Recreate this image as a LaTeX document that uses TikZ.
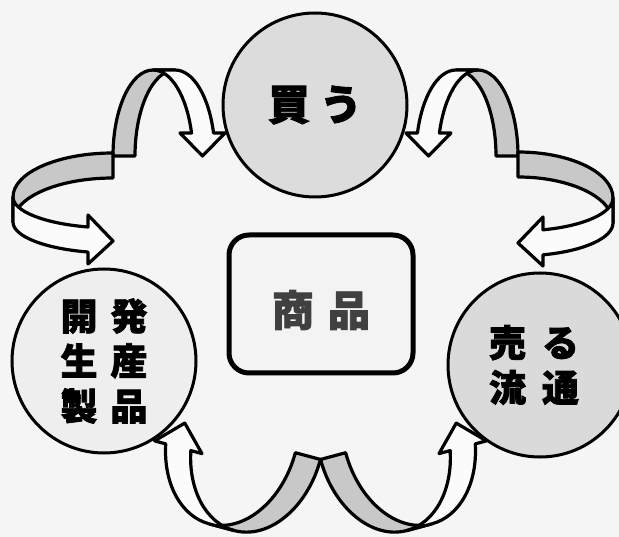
\documentclass[tikz,border=0pt]{standalone}
\usepackage{fontspec}
\newfontfamily\jp{Noto Sans CJK JP}[BoldFeatures={FakeBold=2}]
\definecolor{bgc}{HTML}{F5F5F5}
\definecolor{bandgray}{HTML}{C8C8C8}
\definecolor{bandwhite}{HTML}{FBFBFB}
\definecolor{topfill}{HTML}{DCDCDC}
\definecolor{leftfill}{HTML}{EEEEEE}
\definecolor{rightfill}{HTML}{DADADA}
\definecolor{boxfill}{HTML}{F3F3F3}
\definecolor{boxtext}{HTML}{404040}
\begin{document}
\begin{tikzpicture}[x=1pt,y=1pt,yscale=-1,
  band/.style={draw=black, line width=3.2pt, line join=round},
  backband/.style={band, fill=bandgray},
  frontband/.style={band, fill=bandwhite},
  circ/.style={circle, draw=black, line width=3pt, inner sep=0pt, minimum size=184pt, align=center},
  goodsbox/.style={draw=black, line width=5pt, rounded corners=20pt, fill=boxfill, minimum width=184pt, minimum height=138pt, text=boxtext}]
\useasboundingbox (0,0) rectangle (619,537);
\clip (0,0) rectangle (619,537);
\fill[bgc] (0,0) rectangle (619,537);

% top-left arch (curved down arrow)
\begin{scope}[shift={(153,156)}]
  \draw[backband] (-40,0) arc[start angle=180,end angle=270,x radius=40,y radius=86] -- (22,-86) arc[start angle=270,end angle=180,x radius=40,y radius=86] -- cycle;
  \draw[frontband] (0,-86) arc[start angle=270,end angle=344.488,x radius=40,y radius=86] -- (27,-23) -- (49.5,0) -- (72,-23) -- (60.54,-23) arc[start angle=344.488,end angle=270,x radius=40,y radius=86] -- cycle;
\end{scope}
% top-right arch (mirrored)
\begin{scope}[shift={(478,156)},xscale=-1]
  \draw[backband] (-40,0) arc[start angle=180,end angle=270,x radius=40,y radius=86] -- (22,-86) arc[start angle=270,end angle=180,x radius=40,y radius=86] -- cycle;
  \draw[frontband] (0,-86) arc[start angle=270,end angle=344.488,x radius=40,y radius=86] -- (27,-23) -- (49.5,0) -- (72,-23) -- (60.54,-23) arc[start angle=344.488,end angle=270,x radius=40,y radius=86] -- cycle;
\end{scope}
% left ribbon (curved right arrow)
\begin{scope}[shift={(113,197)}]
  \draw[backband] (0,-44) arc[start angle=270,end angle=180,x radius=100,y radius=44] -- (-100,25) arc[start angle=180,end angle=270,x radius=100,y radius=44] -- cycle;
  \draw[frontband] (-100,0) arc[start angle=180,end angle=104.4775,x radius=100,y radius=31] -- (-25,18) -- (0,44) -- (-25,67) -- (-25,55.02) arc[start angle=104.4775,end angle=180,x radius=100,y radius=31] -- cycle;
\end{scope}
% right ribbon (curved left arrow)
\begin{scope}[shift={(518,198)},xscale=-1]
  \draw[backband] (0,-46) arc[start angle=270,end angle=180,x radius=95,y radius=46] -- (-95,25) arc[start angle=180,end angle=270,x radius=95,y radius=46] -- cycle;
  \draw[frontband] (-95,0) arc[start angle=180,end angle=105.258,x radius=95,y radius=33] -- (-25,19) -- (0,45) -- (-25,68) -- (-25,56.84) arc[start angle=105.258,end angle=180,x radius=95,y radius=33] -- cycle;
\end{scope}
% bottom-left (curved up arrow, rotated)
\begin{scope}[shift={(183.3,422.7)},rotate=15]
  \draw[backband] (116,0) arc[start angle=0,end angle=90,x radius=65,y radius=91] -- (77,91) arc[start angle=90,end angle=0,x radius=65,y radius=91] -- cycle;
  \draw[frontband] (51,91) arc[start angle=90,end angle=164.05,x radius=65,y radius=91] -- (-23,25) -- (1.5,0) -- (26,25) -- (14.5,25) arc[start angle=164.05,end angle=90,x radius=65,y radius=91] -- cycle;
\end{scope}
% bottom-right (mirrored)
\begin{scope}[shift={(457.7,422.7)},rotate=-15,xscale=-1]
  \draw[backband] (116,0) arc[start angle=0,end angle=90,x radius=65,y radius=91] -- (77,91) arc[start angle=90,end angle=0,x radius=65,y radius=91] -- cycle;
  \draw[frontband] (51,91) arc[start angle=90,end angle=164.05,x radius=65,y radius=91] -- (-23,25) -- (1.5,0) -- (26,25) -- (14.5,25) arc[start angle=164.05,end angle=90,x radius=65,y radius=91] -- cycle;
\end{scope}

\node[circ, fill=topfill, font=\jp\bfseries\fontsize{42}{42}\selectfont] (buy) at (315,105) {買\hspace{10pt}う};
\node[circ, fill=leftfill, font=\jp\bfseries\fontsize{37}{45}\selectfont] (dev) at (104,361) {開\hspace{13pt}発\\生\hspace{13pt}産\\製\hspace{13pt}品};
\node[circ, fill=rightfill, font=\jp\bfseries\fontsize{37}{45}\selectfont] (sell) at (540,365) {売\hspace{16pt}る\hspace*{12pt}\\流\hspace{16pt}通\hspace*{12pt}};
\node[goodsbox, font=\jp\bfseries\fontsize{42}{42}\selectfont, text height=50pt, text depth=6pt] (goods) at (321,304) {商\hspace{14pt}品};
\end{tikzpicture}
\end{document}
